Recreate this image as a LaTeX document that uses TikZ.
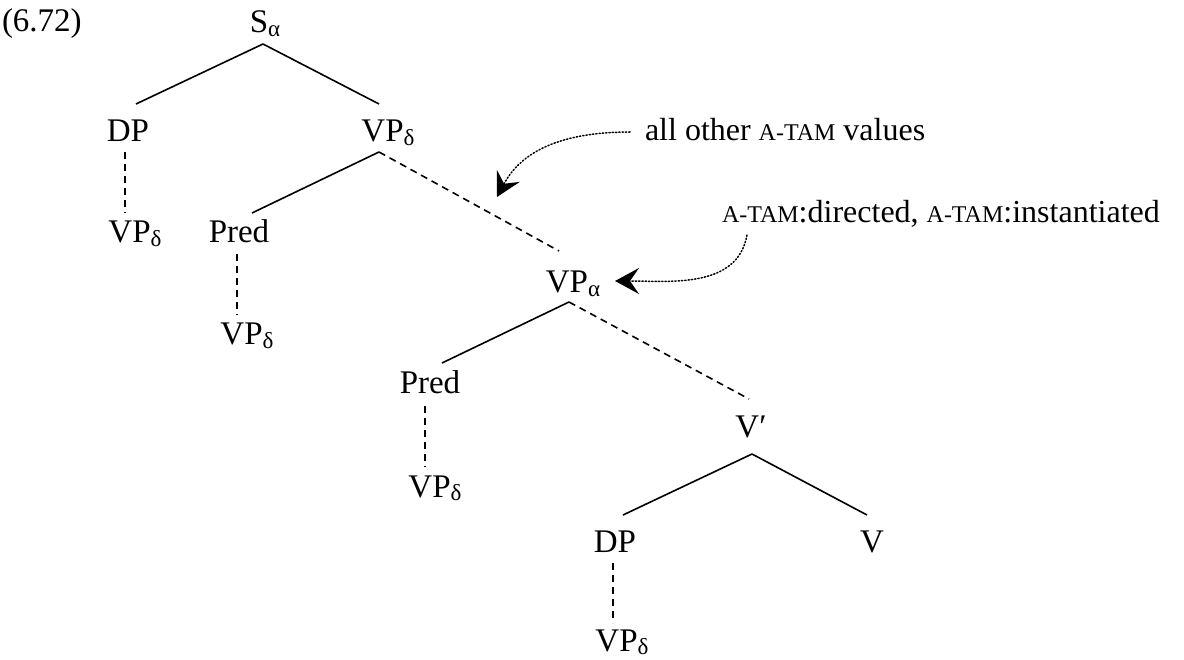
\documentclass[tikz,border=0pt]{standalone}
\usepackage{fontspec}
\setmainfont{Liberation Serif}
\usetikzlibrary{arrows.meta}
\newcommand\lsub[1]{\raisebox{-3.5pt}{\fontsize{23}{23}\selectfont #1}}
\newcommand\fsc[1]{{\fontsize{24}{24}\selectfont #1}}
\begin{document}
\begin{tikzpicture}[x=1pt,y=-1pt,
  lab/.style={inner sep=0pt,outer sep=0pt,anchor=base,font=\fontsize{33}{38}\selectfont},
  note/.style={inner sep=0pt,outer sep=0pt,anchor=base west,font=\fontsize{32}{38}\selectfont},
  edge/.style={line width=1.6pt},
  dedge/.style={line width=1.6pt,dash pattern=on 7pt off 5pt},
  pointer/.style={line width=1.5pt,dash pattern=on 1.3pt off 2pt,line cap=round,
    -{Stealth[length=24pt,width=26pt,inset=9pt]}}]
\useasboundingbox (0,0) rectangle (1184,660);
\node[note,font=\fontsize{33}{38}\selectfont] (ex) at (2,32) {(6.72)};
\node[lab] (s) at (265,33) {S\lsub{α}};
\node[lab] (dp1) at (128,142) {DP};
\node[lab] (vp1) at (388,142) {VP\lsub{δ}};
\node[lab] (vpd1) at (135,243) {VP\lsub{δ}};
\node[lab] (pred1) at (239,243) {Pred};
\node[lab] (vpd2) at (247,345) {VP\lsub{δ}};
\node[lab] (vpa) at (573,293) {VP\lsub{α}};
\node[lab] (pred2) at (430,394) {Pred};
\node[lab] (vpd3) at (435,497) {VP\lsub{δ}};
\node[lab] (vbar) at (751,437) {V′};
\node[lab] (dp2) at (615,552) {DP};
\node[lab] (v) at (872,552) {V};
\node[lab] (vpd4) at (622,651) {VP\lsub{δ}};
\node[note] (t1) at (645,141) {all other \fsc{A-TAM} values};
\node[note] (t2) at (722,223) {\fsc{A-TAM}:directed, \fsc{A-TAM}:instantiated};
\coordinate (a1) at (497,197);
% tree edges
\draw[edge] ([xshift=-2pt,yshift=-11pt]s.base) -- ([xshift=8pt,yshift=38pt]dp1.base);
\draw[edge] ([xshift=-2pt,yshift=-11pt]s.base) -- ([xshift=-9pt,yshift=38pt]vp1.base);
\draw[dedge] ([xshift=-3pt,yshift=-10pt]dp1.base) -- ([xshift=-10pt,yshift=30pt]vpd1.base);
\draw[edge] ([xshift=-9pt,yshift=-10pt]vp1.base) -- ([xshift=13pt,yshift=30pt]pred1.base);
\draw[dedge] ([xshift=-9pt,yshift=-10pt]vp1.base) -- ([xshift=-14pt,yshift=42pt]vpa.base);
\draw[dedge] ([xshift=-2pt,yshift=-11pt]pred1.base) -- ([xshift=-10pt,yshift=30pt]vpd2.base);
\draw[edge] ([xshift=-4pt,yshift=-9pt]vpa.base) -- ([xshift=12pt,yshift=31pt]pred2.base);
\draw[dedge] ([xshift=-4pt,yshift=-9pt]vpa.base) -- ([xshift=-2pt,yshift=38pt]vbar.base);
\draw[dedge] ([xshift=-5pt,yshift=-12pt]pred2.base) -- ([xshift=-10pt,yshift=30pt]vpd3.base);
\draw[edge] ([xshift=1pt,yshift=-17pt]vbar.base) -- ([xshift=8pt,yshift=37pt]dp2.base);
\draw[edge] ([xshift=1pt,yshift=-17pt]vbar.base) -- ([xshift=-5pt,yshift=37pt]v.base);
\draw[dedge] ([xshift=-2pt,yshift=-11pt]dp2.base) -- ([xshift=-9pt,yshift=28pt]vpd4.base);
% pointers
\draw[pointer] ([xshift=-15pt,yshift=9pt]t1.base west) to[out=180,in=62] (a1);
\draw[pointer] ([xshift=25pt,yshift=-12pt]t2.base west) to[out=-100,in=0] ([xshift=42pt,yshift=12pt]vpa.base);
\end{tikzpicture}
\end{document}
